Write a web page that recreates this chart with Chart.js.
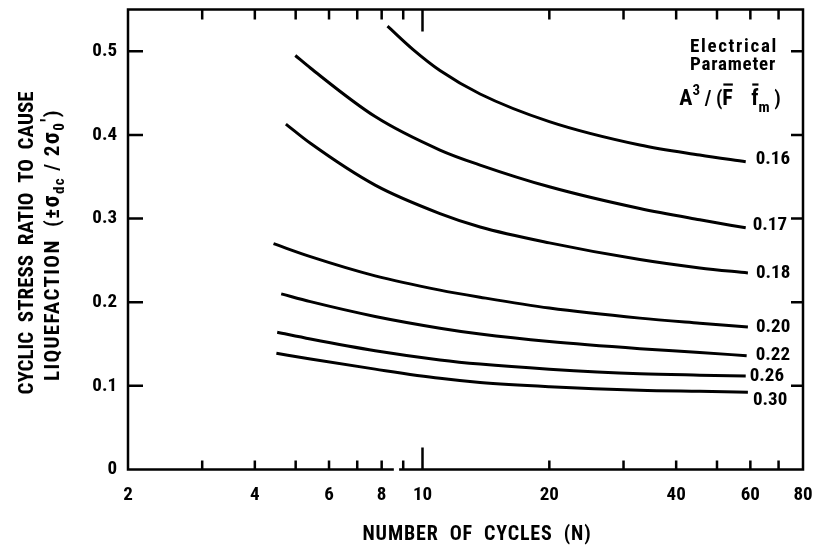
<!DOCTYPE html>
<html>
<head>
<meta charset="utf-8">
<script src="https://cdn.jsdelivr.net/npm/chart.js@4.4.1/dist/chart.umd.min.js"></script>
<style>
  html, body { margin: 0; padding: 0; background: #fff; }
</style>
</head>
<body>
<canvas id="cycles-chart" width="815" height="548"></canvas>
<script>
// electrical parameter A^3/(F f_m) for each curve
const params = ['0.16', '0.17', '0.18', '0.20', '0.22', '0.26', '0.30'];

// number of cycles (N) and cyclic stress ratio
const cycles016 = [8.26, 9.5, 11.0, 13.7, 20, 32.8, 45.5, 58.5];
const ratio016 = [0.530, 0.502, 0.477, 0.449, 0.416, 0.388, 0.376, 0.368];
const cycles017 = [4.99, 5.42, 7.72, 11.0, 13.7, 20, 32.8, 45.5, 58.5];
const ratio017 = [0.495, 0.480, 0.422, 0.382, 0.364, 0.338, 0.312, 0.2985, 0.289];
const cycles018 = [4.74, 5.42, 7.72, 11.0, 13.7, 20, 32.8, 45.5, 59.2];
const ratio018 = [0.413, 0.390, 0.340, 0.306, 0.290, 0.271, 0.251, 0.241, 0.235];
const cycles020 = [4.43, 5.42, 7.72, 11.0, 13.7, 20, 32.8, 45.5, 59.2];
const ratio020 = [0.270, 0.2545, 0.2315, 0.2145, 0.206, 0.193, 0.181, 0.175, 0.1705];
const cycles022 = [4.62, 5.42, 7.72, 11.0, 13.7, 20, 32.8, 45.5, 58.8];
const ratio022 = [0.210, 0.2007, 0.183, 0.169, 0.162, 0.153, 0.1445, 0.140, 0.136];
const cycles026 = [4.52, 5.42, 7.72, 11.0, 13.7, 20, 32.8, 45.5, 58.5];
const ratio026 = [0.164, 0.156, 0.142, 0.131, 0.126, 0.120, 0.1145, 0.1128, 0.1118];
const cycles030 = [4.50, 5.42, 7.72, 11.0, 13.7, 20, 32.8, 45.5, 59.2];
const ratio030 = [0.139, 0.132, 0.120, 0.109, 0.104, 0.099, 0.0948, 0.0935, 0.0925];

// axis ticks
const xTicks = [2, 3, 4, 5, 6, 7, 8, 9, 10, 20, 30, 40, 50, 60, 70, 80];
const xLabels = [2, 4, 6, 8, 10, 20, 40, 60, 80];
const yTicks = [0, 0.1, 0.2, 0.3, 0.4, 0.5];

const curves = [
  [cycles016, ratio016], [cycles017, ratio017], [cycles018, ratio018],
  [cycles020, ratio020], [cycles022, ratio022], [cycles026, ratio026],
  [cycles030, ratio030],
];

const FONT = "'Roboto Condensed', 'DejaVu Sans Condensed', sans-serif";

// where each curve label sits relative to the curve end (dx, dy)
const labelShift = [[10, -2], [7, -3], [8, 0], [8, 0], [9, -1], [4, 0], [5, 8]];

function partsWidth(ctx, parts) {
  let w = 0;
  parts.forEach(([t, size]) => {
    ctx.font = `bold ${size}px ${FONT}`;
    w += ctx.measureText(t).width;
  });
  return w;
}

// draws mixed-size text centred on cx, stretched with letter spacing to a given width
function drawParts(ctx, parts, cx, y, target) {
  ctx.letterSpacing = '0px';
  const w0 = partsWidth(ctx, parts);
  const chars = parts.reduce((n, p) => n + p[0].length, 0);
  const sp = Math.max(0, (target - w0) / chars);
  ctx.letterSpacing = sp + 'px';
  let x = cx - (w0 + sp * chars) / 2;
  parts.forEach(([t, size, dy, bar]) => {
    ctx.font = `bold ${size}px ${FONT}`;
    ctx.fillText(t, x, y + (dy || 0));
    const w = ctx.measureText(t).width;
    if (bar) ctx.fillRect(x + 1, y + dy - size * 0.98, w - sp - 1, 2.2);
    x += w;
  });
  ctx.letterSpacing = '0px';
}

const framePlugin = {
  id: 'frame',
  afterDraw(chart) {
    const { ctx, chartArea: a, scales: { x, y } } = chart;
    ctx.save();
    ctx.strokeStyle = '#000';
    ctx.fillStyle = '#000';
    ctx.lineWidth = 2.5;
    ctx.strokeRect(a.left, a.top, a.right - a.left, a.bottom - a.top);

    // inward tick marks
    ctx.beginPath();
    xTicks.forEach(v => {
      if (v === 2 || v === 80) return;
      const px = x.getPixelForValue(v);
      ctx.moveTo(px, a.bottom);
      ctx.lineTo(px, a.bottom - (v === 10 ? 22 : 9));
      ctx.moveTo(px, a.top);
      ctx.lineTo(px, a.top + (v === 10 ? 22 : 10));
    });
    yTicks.forEach(v => {
      if (v === 0) return;
      const py = y.getPixelForValue(v);
      ctx.moveTo(a.left, py);
      ctx.lineTo(a.left + 15, py);
      ctx.moveTo(a.right, py);
      ctx.lineTo(a.right - 12, py);
    });
    ctx.stroke();
    // small break in the bottom axis line
    ctx.fillStyle = '#fff';
    const g0 = x.getPixelForValue(8.55), g1 = x.getPixelForValue(8.8);
    ctx.fillRect(g0, a.bottom - 2, g1 - g0, 4);
    ctx.fillStyle = '#000';

    // curve labels
    ctx.textBaseline = 'middle';
    ctx.textAlign = 'left';
    ctx.font = `bold 19px ${FONT}`;
    chart.data.datasets.forEach((ds, i) => {
      const pts = chart.getDatasetMeta(i).data;
      const end = pts[pts.length - 1];
      ctx.fillText(params[i], end.x + labelShift[i][0], end.y + labelShift[i][1]);
    });

    // parameter title
    ctx.textBaseline = 'alphabetic';
    drawParts(ctx, [['Electrical', 19, 0]], 734, 52, 88);
    drawParts(ctx, [['Parameter', 19, 0]], 733, 70, 86);
    const eq = [['A', 22, 0], ['3', 15, -10], [' / (', 20, 0], ['F', 22, 0, true], ['    ', 20, 0], ['f', 22, 0, true], ['m', 15, 7], [' )', 20, 0]];
    drawParts(ctx, eq, 730, 105, 94);

    // x axis title
    drawParts(ctx, [['NUMBER  OF  CYCLES  (N)', 20, 0]], 477, 540, 229);

    // y axis title, rotated
    ctx.translate(0, 243);
    ctx.rotate(-Math.PI / 2);
    drawParts(ctx, [['CYCLIC  STRESS  RATIO  TO  CAUSE', 21, 0]], 0, 33, 277);
    const l2 = [['LIQUEFACTION  (\u00b1', 21, 0], ['\u03c3', 24, 0], ['dc', 15, 5], [' / 2', 21, 0], ['\u03c3', 24, 0], ['0', 15, 5], ['\u2032', 21, -4], [')', 21, 0]];
    drawParts(ctx, l2, -2, 59, 272);
    ctx.restore();
  }
};

const chart = new Chart(document.getElementById('cycles-chart').getContext('2d'), {
  type: 'line',
  data: {
    datasets: curves.map(([n, r], i) => ({
      label: params[i],
      data: n.map((v, k) => ({ x: v, y: r[k] })),
      borderColor: '#000',
      borderWidth: 3,
      pointRadius: 0,
      cubicInterpolationMode: 'monotone',
      fill: false,
    })),
  },
  options: {
    responsive: false,
    animation: false,
    layout: { padding: { top: 9.5, right: 12, left: 0, bottom: 0 } },
    plugins: { legend: { display: false }, tooltip: { enabled: false } },
    scales: {
      x: {
        type: 'logarithmic',
        min: 2,
        max: 80,
        afterBuildTicks: s => { s.ticks = xTicks.map(v => ({ value: v })); },
        afterFit: s => { s.height = 78.5; s.paddingLeft = 0; s.paddingRight = 0; },
        grid: { display: false, drawTicks: false },
        border: { display: false },
        ticks: {
          autoSkip: false,
          maxRotation: 0,
          padding: 14,
          color: '#000',
          font: { family: FONT, size: 19, weight: 'bold' },
          callback: v => (xLabels.includes(v) ? String(v) : ''),
        },
      },
      y: {
        min: 0,
        max: 0.55,
        afterBuildTicks: s => { s.ticks = yTicks.map(v => ({ value: v })); },
        afterFit: s => { s.width = 128; s.paddingTop = 0; s.paddingBottom = 0; },
        grid: { display: false, drawTicks: false },
        border: { display: false },
        ticks: {
          padding: 11,
          color: '#000',
          font: { family: FONT, size: 19, weight: 'bold' },
          callback: v => (v === 0 ? '0' : v.toFixed(1)),
        },
      },
    },
  },
  plugins: [framePlugin],
});
</script>
</body>
</html>
